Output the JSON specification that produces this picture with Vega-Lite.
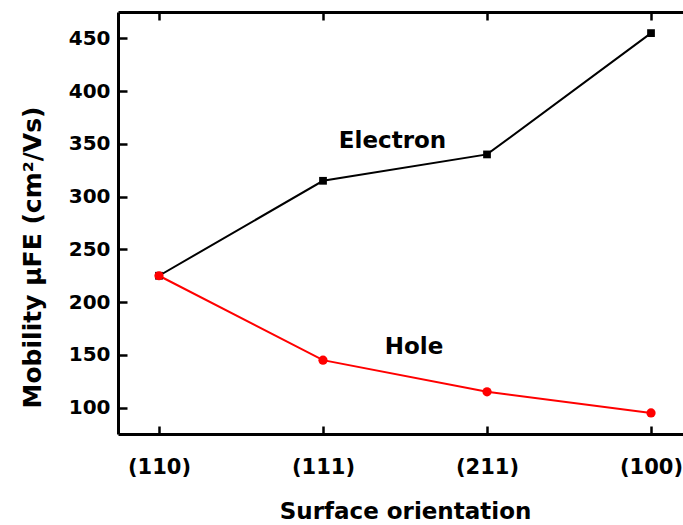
{
  "$schema": "https://vega.github.io/schema/vega-lite/v6.json",
  "width": 565,
  "height": 422,
  "autosize": {"type": "none"},
  "padding": {"left": 118, "top": 12, "right": 0, "bottom": 91},
  "background": "white",
  "config": {
    "view": {"stroke": null},
    "font": "DejaVu Sans",
    "axis": {"grid": false, "labelFont": "DejaVu Sans", "titleFont": "DejaVu Sans", "labelFontWeight": "bold", "titleFontWeight": "bold", "labelColor": "#000", "titleColor": "#000", "domainColor": "#000", "tickColor": "#000", "domainWidth": 3, "tickWidth": 2.5}
  },
  "datasets": {
    "mob": [
      {"orientation": "(110)", "pos": 0, "series": "Electron", "mobility": 225},
      {"orientation": "(111)", "pos": 1, "series": "Electron", "mobility": 315},
      {"orientation": "(211)", "pos": 2, "series": "Electron", "mobility": 340},
      {"orientation": "(100)", "pos": 3, "series": "Electron", "mobility": 455},
      {"orientation": "(110)", "pos": 0, "series": "Hole", "mobility": 225},
      {"orientation": "(111)", "pos": 1, "series": "Hole", "mobility": 145},
      {"orientation": "(211)", "pos": 2, "series": "Hole", "mobility": 115},
      {"orientation": "(100)", "pos": 3, "series": "Hole", "mobility": 95}
    ],
    "labels": [
      {"text": "Electron", "pos": 1.424, "mobility": 346},
      {"text": "Hole", "pos": 1.555, "mobility": 151}
    ]
  },
  "layer": [
    {
      "data": {"name": "mob"},
      "layer": [
        {
          "mark": {"type": "line", "strokeWidth": 2},
          "encoding": {
            "x": {"field": "pos", "type": "quantitative", "scale": {"domain": [-0.25, 3.195], "nice": false, "zero": false},
              "axis": {"orient": "bottom", "values": [0, 1, 2, 3], "labelExpr": "['(110)','(111)','(211)','(100)'][datum.value]", "tickSize": -8, "labelFontSize": 21, "labelPadding": 47, "labelBaseline": "alphabetic", "title": "Surface orientation", "titleFontSize": 23, "titleX": 287, "titleY": 84, "titleBaseline": "alphabetic", "titleAnchor": null}},
            "y": {"field": "mobility", "type": "quantitative", "scale": {"domain": [75, 475], "nice": false, "zero": false},
              "axis": {"orient": "left", "values": [100, 125, 150, 175, 200, 225, 250, 275, 300, 325, 350, 375, 400, 425, 450], "labelExpr": "datum.value % 50 == 0 ? datum.label : ''", "tickSize": {"condition": {"test": "datum.value % 50 == 0", "value": -9}, "value": -5}, "tickWidth": {"condition": {"test": "datum.value % 50 == 0", "value": 2.5}, "value": 2}, "labelFontSize": 20, "labelPadding": 17, "title": "Mobility μFE (cm²/Vs)", "titleFontSize": 25, "titleX": -86, "titleY": 245, "titleAngle": -90, "titleBaseline": "middle", "titleAlign": "center", "titleAnchor": null}},
            "color": {"field": "series", "type": "nominal", "scale": {"domain": ["Electron", "Hole"], "range": ["#000000", "#ff0000"]}, "legend": null},
            "order": {"field": "pos"}
          }
        },
        {
          "mark": {"type": "point", "filled": true, "opacity": 1},
          "encoding": {
            "x": {"field": "pos", "type": "quantitative"},
            "y": {"field": "mobility", "type": "quantitative"},
            "color": {"field": "series", "type": "nominal", "legend": null},
            "shape": {"field": "series", "type": "nominal", "scale": {"domain": ["Electron", "Hole"], "range": ["square", "circle"]}, "legend": null},
            "size": {"field": "series", "type": "nominal", "scale": {"domain": ["Electron", "Hole"], "range": [60, 85]}, "legend": null}
          }
        }
      ]
    },
    {
      "data": {"name": "labels"},
      "mark": {"type": "text", "font": "DejaVu Sans", "fontWeight": "bold", "fontSize": 23, "align": "center", "baseline": "alphabetic", "color": "#000"},
      "encoding": {
        "x": {"field": "pos", "type": "quantitative",
          "axis": {"orient": "top", "values": [0, 1, 2, 3], "labels": false, "tickSize": -8, "title": null}},
        "y": {"field": "mobility", "type": "quantitative",
          "axis": {"orient": "right", "offset": 9, "domain": false, "values": [100, 125, 150, 175, 200, 225, 250, 275, 300, 325, 350, 375, 400, 425, 450], "labels": false, "tickSize": {"condition": {"test": "datum.value % 50 == 0", "value": -9}, "value": -5}, "title": null}},
        "text": {"field": "text"}
      }
    }
  ],
  "resolve": {"axis": {"x": "independent", "y": "independent"}}
}
